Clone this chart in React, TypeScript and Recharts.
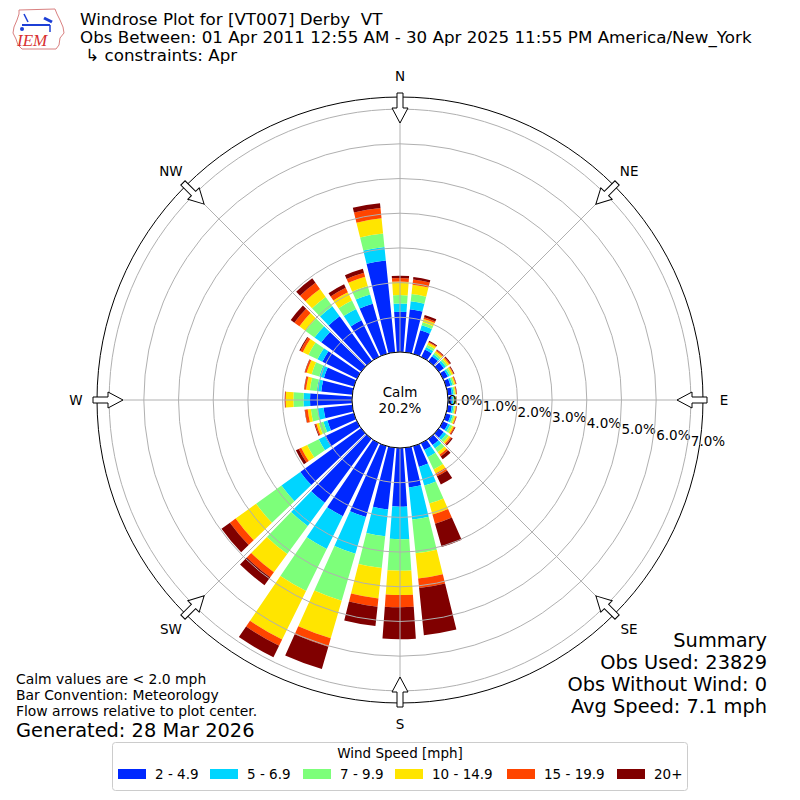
import { RadialBarChart, RadialBar, PolarAngleAxis, PolarRadiusAxis, PolarGrid } from "recharts";

// wind direction (degrees, meteorological) and % of obs per speed bin
const DIRECTIONS = [0, 10, 20, 30, 40, 50, 60, 70, 80, 90, 100, 110, 120, 130, 140, 150, 160, 170,
  180, 190, 200, 210, 220, 230, 240, 250, 260, 270, 280, 290, 300, 310, 320, 330, 340, 350];

const SPEED_2_5 = [1.16, 1.25, 0.71, 0.24, 0.18, 0.18, 0.15, 0.13, 0.12, 0.11, 0.12, 0.14, 0.16, 0.18, 0.22, 0.22, 0.62, 1.15,
  1.69, 1.79, 2.13, 2.35, 2.29, 2.16, 1.02, 0.79, 0.83, 1.21, 0.9, 0.9, 1.11, 1.43, 1.59, 1.17, 1.5, 2.66];
const SPEED_5_7 = [0.24, 0.23, 0.15, 0.08, 0.07, 0.07, 0.06, 0.06, 0.05, 0.05, 0.05, 0.06, 0.07, 0.09, 0.12, 0.23, 0.56, 0.93,
  0.94, 0.78, 1.1, 1.05, 0.83, 0.67, 0.2, 0.12, 0.18, 0.19, 0.13, 0.14, 0.16, 0.24, 0.36, 0.36, 0.28, 0.39];
const SPEED_7_10 = [0.24, 0.21, 0.09, 0.07, 0.06, 0.06, 0.06, 0.05, 0.04, 0.04, 0.04, 0.05, 0.07, 0.09, 0.13, 0.39, 0.54, 0.98,
  0.91, 0.92, 1.41, 1.35, 1.0, 0.9, 0.37, 0.14, 0.19, 0.29, 0.2, 0.23, 0.29, 0.32, 0.33, 0.27, 0.25, 0.39];
const SPEED_10_15 = [0.39, 0.27, 0.1, 0.07, 0.06, 0.06, 0.05, 0.04, 0.03, 0.03, 0.03, 0.04, 0.05, 0.06, 0.09, 0.13, 0.33, 0.73,
  0.7, 0.88, 1.13, 1.56, 0.65, 0.73, 0.19, 0.07, 0.09, 0.22, 0.11, 0.15, 0.18, 0.22, 0.28, 0.27, 0.28, 0.44];
const SPEED_15_20 = [0.1, 0.15, 0.05, 0.03, 0.03, 0.03, 0.02, 0.02, 0.02, 0.01, 0.02, 0.02, 0.03, 0.04, 0.06, 0.09, 0.27, 0.27,
  0.35, 0.24, 0.25, 0.2, 0.18, 0.2, 0.08, 0.04, 0.08, 0.02, 0.05, 0.05, 0.08, 0.18, 0.22, 0.14, 0.12, 0.3];
const SPEED_20_UP = [0.07, 0.07, 0.07, 0.03, 0.02, 0.03, 0.02, 0.01, 0.01, 0.01, 0.01, 0.01, 0.02, 0.04, 0.1, 0.26, 0.7, 1.37,
  0.92, 0.56, 0.67, 0.37, 0.28, 0.3, 0.09, 0.02, 0.01, 0.01, 0.01, 0.01, 0.03, 0.13, 0.16, 0.11, 0.12, 0.14];

const SPEED_BINS = ["2 - 4.9", "5 - 6.9", "7 - 9.9", "10 - 14.9", "15 - 19.9", "20+"];
const BIN_COLORS = ["#0028ff", "#00d5ff", "#7dff7a", "#ffe500", "#ff4500", "#800000"];
const BIN_KEYS = ["s0", "s1", "s2", "s3", "s4", "s5"];
const RADIAL_TICKS = [0, 1, 2, 3, 4, 5, 6, 7];
const COMPASS = ["N", "NE", "E", "SE", "S", "SW", "W", "NW"];
const CALM_PCT = 20.2;

const SUMMARY = ["Summary", "Obs Used: 23829", "Obs Without Wind: 0", "Avg Speed: 7.1 mph"];
const NOTES = ["Calm values are < 2.0 mph", "Bar Convention: Meteorology", "Flow arrows relative to plot center."];

const data = DIRECTIONS.map((dir, i) => ({
  dir,
  s0: SPEED_2_5[i],
  s1: SPEED_5_7[i],
  s2: SPEED_7_10[i],
  s3: SPEED_10_15[i],
  s4: SPEED_15_20[i],
  s5: SPEED_20_UP[i],
}));

const CX = 400;
const CY = 400;
const HOLE = 48;
const OUTER = 303;
const R_MAX = 7.35;
const FONT = "'DejaVu Sans', sans-serif";

// shared polar frame: N at top, clockwise, first band centred on north
const frame = {
  width: 800,
  height: 800,
  data,
  layout: "centric" as const,
  cx: CX,
  cy: CY,
  innerRadius: HOLE,
  outerRadius: OUTER,
  startAngle: 85,
  endAngle: -275,
  margin: { top: 0, right: 0, bottom: 0, left: 0 },
};

const RadiusTick = (props: any) => {
  const { x, y, payload } = props;
  return (
    <text x={x} y={y + payload.value * 5.9} dy="0.35em" textAnchor="start" fontSize={13.5} fill="#000" fontFamily={FONT}>
      {payload.value.toFixed(1)}%
    </text>
  );
};

function Overlay() {
  return (
    <svg width={800} height={800} style={{ position: "absolute", left: 0, top: 0, pointerEvents: "none" }} fontFamily={FONT}>
      {/* calm hole */}
      <circle cx={CX} cy={CY} r={HOLE} fill="#fff" stroke="#000" strokeWidth={1} />
      <text x={CX} y={397} textAnchor="middle" fontSize={13.5}>Calm</text>
      <text x={CX} y={413} textAnchor="middle" fontSize={13.5}>{CALM_PCT.toFixed(1)}%</text>

      {/* flow arrows + compass labels */}
      {COMPASS.map((c, i) => {
        const a = i * 45;
        const rad = (a * Math.PI) / 180;
        return (
          <g key={c}>
            <g transform={`translate(${CX},${CY}) rotate(${a})`}>
              <polygon
                points="0,-277 -8,-292 -3,-292 -3,-307 3,-307 3,-292 8,-292"
                fill="#fff"
                stroke="#000"
                strokeWidth={1}
              />
            </g>
            <text
              x={CX + 324 * Math.sin(rad)}
              y={CY - 324 * Math.cos(rad)}
              textAnchor="middle"
              dominantBaseline="central"
              fontSize={13.5}
            >
              {c}
            </text>
          </g>
        );
      })}

      {/* logo */}
      <g>
        <polygon
          points="19,10 55,9 57,14 60,20 63,27 64,33 60,38 59,45 56,49 22,49 18,45 16,39 13,33 14,27 17,20 19,14"
          fill="#fff"
          stroke="#d98080"
          strokeWidth={1}
        />
        <line x1={22} y1={25} x2={50} y2={25} stroke="#1c3fd6" strokeWidth={2} />
        <line x1={24} y1={14} x2={28} y2={22} stroke="#1c3fd6" strokeWidth={1.5} />
        <line x1={44} y1={18} x2={52} y2={22} stroke="#1c3fd6" strokeWidth={3} />
        <line x1={50} y1={25} x2={50} y2={32} stroke="#1c3fd6" strokeWidth={1.5} />
        <circle cx={22} cy={29} r={2} fill="#1c3fd6" />
        <text x={17} y={46} fontSize={17} fontStyle="italic" fontFamily="'Liberation Serif', serif" fill="#d83030">IEM</text>
      </g>

      {/* titles */}
      <text x={80} y={25} fontSize={16.7} style={{ whiteSpace: "pre" }}>Windrose Plot for [VT007] Derby  VT</text>
      <text x={80} y={43} fontSize={16.7}>Obs Between: 01 Apr 2011 12:55 AM - 30 Apr 2025 11:55 PM America/New_York</text>
      <text x={80} y={61} fontSize={16.7} style={{ whiteSpace: "pre" }}> ↳ constraints: Apr</text>

      {/* notes */}
      {NOTES.map((t, i) => (
        <text key={t} x={16} y={684 + i * 16.2} fontSize={13.9}>{t}</text>
      ))}
      <text x={16} y={737} fontSize={19.4}>Generated: 28 Mar 2026</text>

      {/* summary */}
      {SUMMARY.map((t, i) => (
        <text key={t} x={767} y={647 + i * 22} fontSize={19.4} textAnchor="end">{t}</text>
      ))}

      {/* legend */}
      <rect x={112.5} y={742.5} width={575} height={48} rx={3} fill="#fff" stroke="#cccccc" />
      <text x={400} y={758} fontSize={13.5} textAnchor="middle">Wind Speed [mph]</text>
      {SPEED_BINS.map((b, i) => {
        const xs = [118, 210, 303, 395, 507, 617];
        return (
          <g key={b}>
            <rect x={xs[i]} y={769} width={28} height={10} fill={BIN_COLORS[i]} />
            <text x={xs[i] + 37} y={779} fontSize={13.5}>{b}</text>
          </g>
        );
      })}
    </svg>
  );
}

export default function App() {
  return (
    <div style={{ position: "absolute", left: 0, top: 0, width: 800, height: 800, background: "#fff", fontFamily: FONT }}>
      {/* stacked bars */}
      <div style={{ position: "absolute", left: 0, top: 0 }}>
        <RadialBarChart {...frame} barCategoryGap="8%">
          <PolarAngleAxis
            dataKey="dir"
            type="category"
            tick={false}
            tickLine={false}
            axisLineType="circle"
            axisLine={{ stroke: "#000", strokeWidth: 1 }}
          />
          <PolarRadiusAxis
            type="number"
            domain={[0, R_MAX]}
            ticks={RADIAL_TICKS}
            angle={0}
            axisLine={false}
            tickLine={false}
            tick={RadiusTick}
          />
          {BIN_KEYS.map((k, i) => (
            <RadialBar
              key={k}
              dataKey={k}
              name={SPEED_BINS[i]}
              stackId="wind"
              fill={BIN_COLORS[i]}
              isAnimationActive={false}
            />
          ))}
        </RadialBarChart>
      </div>
      {/* grid drawn above the bars, as matplotlib does */}
      <div style={{ position: "absolute", left: 0, top: 0, pointerEvents: "none" }}>
        <RadialBarChart {...frame} barCategoryGap="8%">
          <PolarAngleAxis dataKey="dir" type="category" tick={false} tickLine={false} axisLine={false} />
          <PolarRadiusAxis
            type="number"
            domain={[0, R_MAX]}
            ticks={RADIAL_TICKS}
            angle={0}
            axisLine={false}
            tickLine={false}
            tick={false}
          />
          <RadialBar dataKey="s0" fill="none" fillOpacity={0} isAnimationActive={false} />
          <PolarGrid
            gridType="circle"
            stroke="#b0b0b0"
            strokeWidth={1}
            polarAngles={[0, 45, 90, 135, 180, 225, 270, 315]}
          />
        </RadialBarChart>
      </div>
      <Overlay />
    </div>
  );
}
